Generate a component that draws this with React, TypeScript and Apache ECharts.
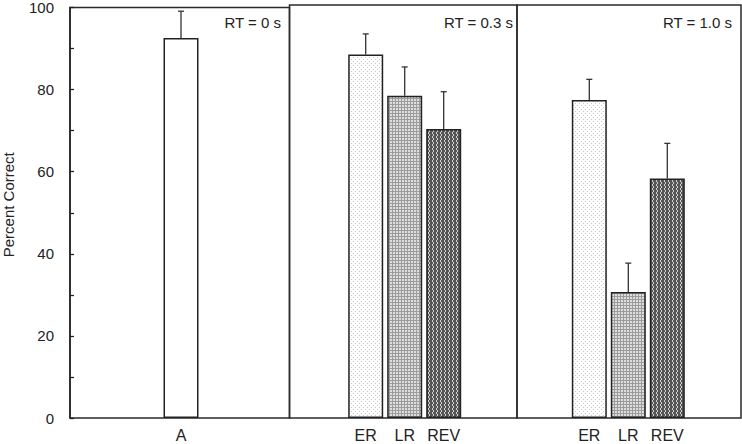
import React, { useEffect, useRef } from "react";
import * as echarts from "echarts";

const categoriesA = ["A"];
const categoriesRT = ["ER", "LR", "REV"];
const panelTitles = ["RT = 0 s", "RT = 0.3 s", "RT = 1.0 s"];
const valuesRT0 = [92];
const errorsRT0 = [6.5];
const valuesRT03 = [88, 78, 70];
const errorsRT03 = [5, 7, 9];
const valuesRT10 = [77, 30.5, 58];
const errorsRT10 = [5, 7, 8.5];
const yMin = 0;
const yMax = 100;
const yTickStep = 10;
const yLabelStep = 20;
const yAxisName = "Percent Correct";

const FONT = "'Liberation Sans', Arial, Helvetica, sans-serif";
const INK = "#222";

function makePattern(w: number, h: number, bg: string, fg: string, pts: number[][]) {
  const c = document.createElement("canvas");
  c.width = w;
  c.height = h;
  const ctx = c.getContext("2d")!;
  ctx.fillStyle = bg;
  ctx.fillRect(0, 0, w, h);
  ctx.fillStyle = fg;
  pts.forEach(([x, y]) => ctx.fillRect(x, y, 1, 1));
  return { image: c, repeat: "repeat", imageWidth: w, imageHeight: h } as any;
}

export default function App() {
  const ref = useRef<HTMLDivElement>(null);
  useEffect(() => {
    if (!ref.current) return;
    const chart = echarts.init(ref.current, null, { renderer: "svg" });

    const patER = makePattern(4, 4, "#ffffff", "#c4c4c4", [[1, 1], [3, 3]]);
    const patLR = makePattern(3, 3, "#9c9c9c", "#dedede", [[0, 0], [1, 0], [0, 1], [1, 1]]);
    const patREV = makePattern(4, 4, "#565656", "#d0d0d0", [[0, 0], [0, 1], [1, 2], [1, 3]]);
    const patterns = [patER, patLR, patREV];

    const top = 5;
    const bottom = 26;
    const panelGrids = [
      { left: 69, top, width: 220.5, bottom },
      { left: 289.5, top, width: 227.5, bottom },
      { left: 517, top, right: 1, bottom },
    ].map((g) => ({ ...g, show: true, borderColor: "#2a2a2a", borderWidth: 1.5, backgroundColor: "transparent" }));
    const barGrids = [
      { left: 161.5, top, width: 39, bottom },
      { left: 346.2, top, width: 117, bottom },
      { left: 569.8, top, width: 117, bottom },
    ];

    const hiddenValueX = (gi: number) => ({
      type: "value", gridIndex: gi, min: 0, max: 1, show: false,
    });
    const hiddenY = (gi: number) => ({
      type: "value", gridIndex: gi, min: yMin, max: yMax, show: false,
    });
    const catX = (gi: number, data: string[]) => ({
      type: "category", gridIndex: gi, data,
      axisLine: { show: false }, axisTick: { show: false },
      axisLabel: { fontSize: 16, color: INK, fontFamily: FONT, margin: 9, interval: 0 },
    });

    const errRender = (params: any, api: any) => {
      const x = api.value(0);
      const v = api.value(1);
      const e = api.value(2);
      const b = api.coord([x, v]);
      const t = api.coord([x, v + e]);
      const hw = 3;
      const st = { stroke: "#333", lineWidth: 1.3 };
      return {
        type: "group",
        children: [
          { type: "line", shape: { x1: b[0], y1: b[1], x2: t[0], y2: t[1] }, style: st },
          { type: "line", shape: { x1: t[0] - hw, y1: t[1], x2: t[0] + hw, y2: t[1] }, style: st },
        ],
      };
    };

    const groups = [
      { cats: categoriesA, vals: valuesRT0, errs: errorsRT0, fills: ["#ffffff"] },
      { cats: categoriesRT, vals: valuesRT03, errs: errorsRT03, fills: patterns },
      { cats: categoriesRT, vals: valuesRT10, errs: errorsRT10, fills: patterns },
    ];

    const series: any[] = [];
    groups.forEach((g, i) => {
      const axisIdx = 3 + i;
      series.push({
        type: "bar",
        xAxisIndex: axisIdx,
        yAxisIndex: axisIdx,
        barWidth: 35,
        data: g.vals.map((v, k) => ({
          value: v,
          itemStyle: { color: g.fills[k], borderColor: INK, borderWidth: 1.5 },
        })),
        z: 2,
      });
      series.push({
        type: "custom",
        xAxisIndex: axisIdx,
        yAxisIndex: axisIdx,
        renderItem: errRender,
        data: g.vals.map((v, k) => [k, v, g.errs[k]]),
        encode: { x: 0, y: 1 },
        z: 1,
      });
    });

    const titleRight = [281, 513, 732];

    chart.setOption({
      animation: false,
      backgroundColor: "#ffffff",
      textStyle: { fontFamily: FONT },
      grid: [...panelGrids, ...barGrids],
      xAxis: [
        hiddenValueX(0), hiddenValueX(1), hiddenValueX(2),
        catX(3, categoriesA), catX(4, categoriesRT), catX(5, categoriesRT),
      ],
      yAxis: [
        {
          type: "value", gridIndex: 0, min: yMin, max: yMax, interval: yTickStep,
          name: yAxisName, nameLocation: "middle", nameGap: 54, nameRotate: 90,
          nameTextStyle: { fontSize: 15, color: INK, fontFamily: FONT, padding: [0, 0, 0, 16] },
          axisLine: { show: true, lineStyle: { color: INK, width: 1.5 } },
          axisTick: { show: true, inside: true, length: 4, lineStyle: { color: INK, width: 1.3 } },
          axisLabel: {
            fontSize: 15, color: INK, fontFamily: FONT, margin: 16,
            formatter: (v: number) => (v % yLabelStep === 0 ? String(v) : ""),
          },
          splitLine: { show: false },
        },
        hiddenY(1), hiddenY(2), hiddenY(3), hiddenY(4), hiddenY(5),
      ],
      graphic: panelTitles.map((t, i) => ({
        type: "text",
        x: titleRight[i],
        y: 22,
        style: { text: t, fontSize: 15, fill: INK, fontFamily: FONT, align: "right", verticalAlign: "middle" },
      })),
      series,
    });

    return () => chart.dispose();
  }, []);

  return (
    <div
      ref={ref}
      style={{ position: "fixed", left: 0, top: 0, width: 742, height: 444, background: "#fff" }}
    />
  );
}
